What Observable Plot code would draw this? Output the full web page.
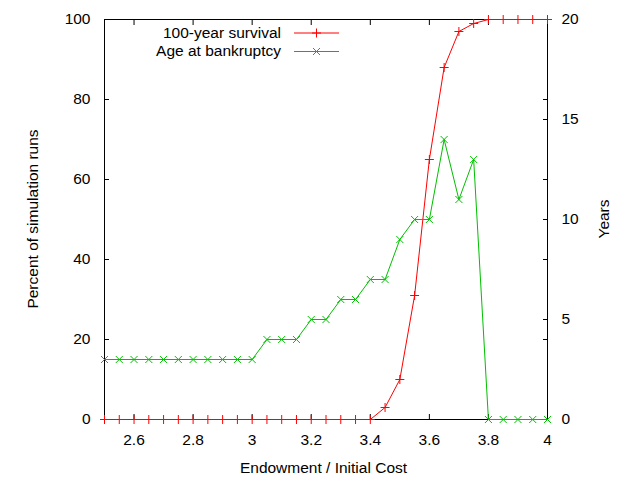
<!DOCTYPE html>
<html>
<head>
<meta charset="utf-8">
<script src="https://cdn.jsdelivr.net/npm/d3@7"></script>
<script src="https://cdn.jsdelivr.net/npm/@observablehq/plot@0.6"></script>
<style>
  html, body { margin: 0; padding: 0; background: #fff; }
  #chart { width: 640px; height: 480px; }
</style>
</head>
<body>
<div id="chart"></div>
<script>
// ---- data ----
const cost = [2.5, 2.55, 2.6, 2.65, 2.7, 2.75, 2.8, 2.85, 2.9, 2.95,
              3.0, 3.05, 3.1, 3.15, 3.2, 3.25, 3.3, 3.35, 3.4, 3.45,
              3.5, 3.55, 3.6, 3.65, 3.7, 3.75, 3.8, 3.85, 3.9, 3.95, 4.0];
const survival = [0, 0, 0, 0, 0, 0, 0, 0, 0, 0,
                  0, 0, 0, 0, 0, 0, 0, 0, 0, 3,
                  10, 31, 65, 88, 97, 99, 100, 100, 100, 100, 100];
const ageYears = [3, 3, 3, 3, 3, 3, 3, 3, 3, 3,
                  3, 4, 4, 4, 5, 5, 6, 6, 7, 7,
                  9, 10, 10, 14, 11, 13, 0, 0, 0, 0, 0];
const seriesNames = ["100-year survival", "Age at bankruptcy"];
const xTicks = [2.6, 2.8, 3, 3.2, 3.4, 3.6, 3.8, 4];
const yTicks = [0, 20, 40, 60, 80, 100];
const y2Ticks = [0, 5, 10, 15, 20];
const xLabel = "Endowment / Initial Cost";
const yLabel = "Percent of simulation runs";
const y2Label = "Years";

// ---- build ----
const y2Max = 20, yMax = 100, k = yMax / y2Max;
const rows = cost.map((c, i) => ({cost: c, survival: survival[i], years: ageYears[i]}));
const RED = "#ff0000", GREEN = "#00c000";
const FONT = "15.5px";
const FAMILY = "'Liberation Sans', Arial, sans-serif";
const W = 640, H = 480, ML = 104, MR = 93, MT = 19, MB = 61;

const plusSym = {draw(ctx, size) { const r = Math.sqrt(size / Math.PI);
  ctx.moveTo(-r, 0); ctx.lineTo(r, 0); ctx.moveTo(0, -r); ctx.lineTo(0, r); }};
const crossSym = {draw(ctx, size) { const r = Math.sqrt(size / Math.PI);
  ctx.moveTo(-r, -r); ctx.lineTo(r, r); ctx.moveTo(-r, r); ctx.lineTo(r, -r); }};

const blank = () => "";
const chart = Plot.plot({
  width: W, height: H,
  marginLeft: ML, marginRight: MR, marginTop: MT, marginBottom: MB,
  style: {fontFamily: FAMILY, fontSize: FONT, background: "#fff", color: "#000"},
  x: {domain: [2.5, 4]},
  y: {domain: [0, yMax]},
  marks: [
    Plot.axisX({anchor: "bottom", ticks: xTicks, tickSize: -5, tickFormat: blank, label: null}),
    Plot.axisX({anchor: "top", ticks: xTicks, tickSize: -5, tickFormat: blank, label: null}),
    Plot.axisX({anchor: "bottom", ticks: xTicks, tickSize: 0, tickPadding: 14, tickFormat: d => String(d), label: null}),
    Plot.axisY({anchor: "left", ticks: yTicks, tickSize: -5, tickFormat: blank, label: null}),
    Plot.axisY({anchor: "right", ticks: yTicks, tickSize: -5, tickFormat: blank, label: null}),
    Plot.axisY({anchor: "left", ticks: yTicks, tickSize: 0, tickPadding: 14, tickFormat: d => String(d), label: null}),
    Plot.axisY({anchor: "right", ticks: y2Ticks.map(v => v * k), tickSize: -5, tickFormat: blank, label: null}),
    Plot.axisY({anchor: "right", ticks: y2Ticks.map(v => v * k), tickSize: 0, tickPadding: 14, tickFormat: v => String(v / k), label: null}),
    Plot.frame({stroke: "#000", strokeWidth: 1}),
    Plot.line(rows, {x: "cost", y: "survival", stroke: RED, strokeWidth: 1}),
    Plot.dot(rows, {x: "cost", y: "survival", symbol: plusSym, r: 4.5, stroke: RED, fill: "none", strokeWidth: 1}),
    Plot.line(rows, {x: "cost", y: d => d.years * k, stroke: GREEN, strokeWidth: 1}),
    Plot.dot(rows, {x: "cost", y: d => d.years * k, symbol: crossSym, r: 3.5, stroke: GREEN, fill: "none", strokeWidth: 1})
  ]
});

const svg = d3.select(chart);
// axis titles
const titles = svg.append("g").attr("font-family", FAMILY).attr("font-size", FONT).attr("fill", "#000");
const midX = (ML + (W - MR)) / 2, midY = (MT + (H - MB)) / 2;
titles.append("text").attr("x", midX - 2).attr("y", 473).attr("text-anchor", "middle").text(xLabel);
titles.append("text").attr("transform", `translate(38,${midY}) rotate(-90)`).attr("text-anchor", "middle").text(yLabel);
titles.append("text").attr("transform", `translate(609,${midY}) rotate(-90)`).attr("text-anchor", "middle").text(y2Label);

// legend (gnuplot-style, inside top-left of plot)
const leg = svg.append("g").attr("font-family", FAMILY).attr("font-size", FONT);
const legColors = [RED, GREEN];
const legSyms = [plusSym, crossSym];
seriesNames.forEach((name, i) => {
  const yy = 33 + i * 18.5;
  leg.append("text").attr("x", 281).attr("y", yy).attr("dy", "0.32em")
    .attr("text-anchor", "end").attr("fill", "#000").text(name);
  leg.append("line").attr("x1", 294).attr("x2", 339).attr("y1", yy).attr("y2", yy)
    .attr("stroke", legColors[i]).attr("stroke-width", 1);
  const p = d3.path(); legSyms[i].draw(p, Math.PI * (i === 0 ? 4.5 : 3.5) ** 2);
  leg.append("path").attr("transform", `translate(316.5,${yy})`).attr("d", p.toString())
    .attr("stroke", legColors[i]).attr("fill", "none").attr("stroke-width", 1);
});

document.getElementById("chart").appendChild(chart);
</script>
</body>
</html>
